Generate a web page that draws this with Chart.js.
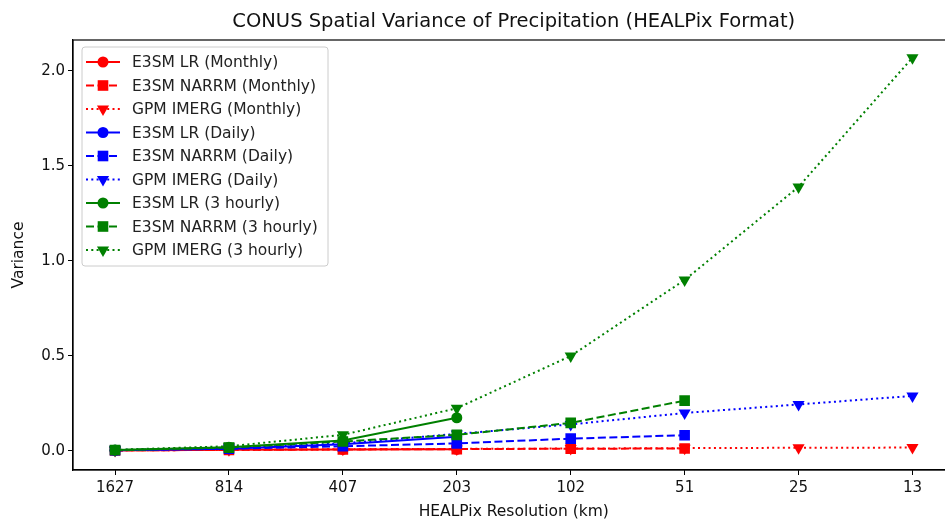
<!DOCTYPE html>
<html lang="en">
<head>
<meta charset="UTF-8">
<script src="https://cdn.jsdelivr.net/npm/chart.js@4.4.0/dist/chart.umd.min.js"></script>
<title>CONUS Spatial Variance</title>
<style>
  html, body { margin: 0; padding: 0; background: #fff; overflow: hidden; }
  #wrap { width: 945px; height: 523px; overflow: hidden; }
  canvas { display: block; }
</style>
</head>
<body>
<!-- the original figure is cut off on the right, so the canvas is a bit wider than the window -->
<div id="wrap"><canvas id="myChart" width="962" height="523"></canvas></div>
<script>
// resolution labels (km), one per position on the x axis
const resolutions = ['1627', '814', '407', '203', '102', '51', '25', '13'];
const yTicks = [0, 0.5, 1.0, 1.5, 2.0];

// variance
const lrMonthly = [0.003, 0.006, 0.008, 0.009];
const narrmMonthly = [0.003, 0.006, 0.008, 0.010, 0.012, 0.013];
const imergMonthly = [0.003, 0.006, 0.009, 0.011, 0.013, 0.015, 0.017, 0.018];
const lrDaily = [0.004, 0.012, 0.035, 0.075];
const narrmDaily = [0.004, 0.012, 0.025, 0.040, 0.065, 0.083];
const imergDaily = [0.005, 0.016, 0.040, 0.090, 0.140, 0.200, 0.245, 0.290];
const lr3h = [0.005, 0.020, 0.055, 0.175];
const narrm3h = [0.005, 0.018, 0.050, 0.085, 0.148, 0.265];
const imerg3h = [0.006, 0.025, 0.085, 0.225, 0.500, 0.900, 1.390, 2.070];

const series = [
  { label: 'E3SM LR (Monthly)', data: lrMonthly, color: '#ff0000', style: 'solid', marker: 'circle' },
  { label: 'E3SM NARRM (Monthly)', data: narrmMonthly, color: '#ff0000', style: 'dashed', marker: 'rect' },
  { label: 'GPM IMERG (Monthly)', data: imergMonthly, color: '#ff0000', style: 'dotted', marker: 'triangle' },
  { label: 'E3SM LR (Daily)', data: lrDaily, color: '#0000ff', style: 'solid', marker: 'circle' },
  { label: 'E3SM NARRM (Daily)', data: narrmDaily, color: '#0000ff', style: 'dashed', marker: 'rect' },
  { label: 'GPM IMERG (Daily)', data: imergDaily, color: '#0000ff', style: 'dotted', marker: 'triangle' },
  { label: 'E3SM LR (3 hourly)', data: lr3h, color: '#008000', style: 'solid', marker: 'circle' },
  { label: 'E3SM NARRM (3 hourly)', data: narrm3h, color: '#008000', style: 'dashed', marker: 'rect' },
  { label: 'GPM IMERG (3 hourly)', data: imerg3h, color: '#008000', style: 'dotted', marker: 'triangle' }
];

const TITLE = 'CONUS Spatial Variance of Precipitation (HEALPix Format)';
const dashes = { solid: [], dashed: [8, 3.5], dotted: [2, 3.3] };
const radius = { circle: 5.5, rect: 7.5, triangle: 7 };
const FONT = 'DejaVu Sans';

const datasets = series.map((s, i) => ({
  label: s.label,
  data: s.data.map((v, k) => ({ x: k, y: v })),
  borderColor: s.color,
  backgroundColor: s.color,
  borderWidth: 2,
  borderDash: dashes[s.style],
  pointStyle: s.marker,
  pointRadius: radius[s.marker],
  pointRotation: s.marker === 'triangle' ? 180 : 0,
  pointBorderWidth: 0,
  pointHoverRadius: radius[s.marker],
  tension: 0,
  order: series.length - i
}));

// frame, title over the axes and in-plot legend like matplotlib
const frameLegend = {
  id: 'frameLegend',
  afterDraw(chart) {
    const ctx = chart.ctx;
    const a = chart.chartArea;
    ctx.save();
    ctx.strokeStyle = '#000';
    ctx.lineWidth = 1.2;
    ctx.strokeRect(a.left, a.top, a.right - a.left, a.bottom - a.top);

    ctx.fillStyle = '#111';
    ctx.font = '19.5px "' + FONT + '"';
    ctx.textAlign = 'center';
    ctx.textBaseline = 'middle';
    ctx.fillText(TITLE, (a.left + a.right) / 2, 22);

    const bx = 82, by = 47, bw = 246, bh = 219;
    ctx.beginPath();
    ctx.roundRect(bx, by, bw, bh, 3);
    ctx.fillStyle = 'rgba(255,255,255,0.8)';
    ctx.fill();
    ctx.strokeStyle = '#cccccc';
    ctx.lineWidth = 1;
    ctx.stroke();

    ctx.font = '15.5px "' + FONT + '"';
    ctx.textAlign = 'left';
    series.forEach((s, i) => {
      const y = 62 + i * 23.5;
      ctx.strokeStyle = s.color;
      ctx.lineWidth = 2;
      ctx.setLineDash(dashes[s.style]);
      ctx.beginPath();
      ctx.moveTo(86, y);
      ctx.lineTo(120, y);
      ctx.stroke();
      ctx.setLineDash([]);
      ctx.fillStyle = s.color;
      Chart.helpers.drawPoint(ctx, {
        pointStyle: s.marker,
        radius: radius[s.marker],
        rotation: s.marker === 'triangle' ? 180 : 0,
        borderWidth: 0
      }, 103, y);
      ctx.fillStyle = '#222';
      ctx.fillText(s.label, 132, y + 1);
    });
    ctx.restore();
  }
};

const ctx = document.getElementById('myChart').getContext('2d');
const chart = new Chart(ctx, {
  type: 'line',
  data: { datasets: datasets },
  options: {
    responsive: false,
    animation: false,
    layout: { padding: { left: 10, right: 1, top: 40, bottom: 2 } },
    plugins: {
      legend: { display: false },
      tooltip: { enabled: false },
      title: { display: false }
    },
    scales: {
      x: {
        type: 'linear',
        min: -0.369,
        max: 7.369,
        afterBuildTicks(scale) {
          scale.ticks = resolutions.map((r, k) => ({ value: k }));
        },
        ticks: {
          color: '#111',
          font: { family: FONT, size: 15 },
          padding: 4,
          maxRotation: 0,
          autoSkip: false,
          callback: (v) => resolutions[v]
        },
        grid: { display: true, drawOnChartArea: false, tickLength: 5, color: '#000' },
        border: { display: true, color: '#000', width: 1.2 },
        title: {
          display: true,
          text: 'HEALPix Resolution (km)',
          color: '#111',
          font: { family: FONT, size: 15.5 },
          padding: { top: 0, bottom: 0 }
        },
        afterFit(scale) {
          scale.height = 51;
          scale.paddingLeft = 0;
          scale.paddingRight = 0;
        }
      },
      y: {
        type: 'linear',
        min: -0.1,
        max: 2.163,
        afterBuildTicks(scale) {
          scale.ticks = yTicks.map(v => ({ value: v }));
        },
        ticks: {
          color: '#111',
          font: { family: FONT, size: 15 },
          padding: 3,
          callback: (v) => v.toFixed(1)
        },
        grid: { display: true, drawOnChartArea: false, tickLength: 5, color: '#000' },
        border: { display: true, color: '#000', width: 1.2 },
        title: {
          display: true,
          text: 'Variance',
          color: '#111',
          font: { family: FONT, size: 15.5 },
          padding: { top: 0, bottom: 4 }
        },
        afterFit(scale) {
          scale.width = 63;
          scale.paddingTop = 0;
          scale.paddingBottom = 0;
        }
      }
    }
  },
  plugins: [frameLegend]
});
</script>
</body>
</html>
